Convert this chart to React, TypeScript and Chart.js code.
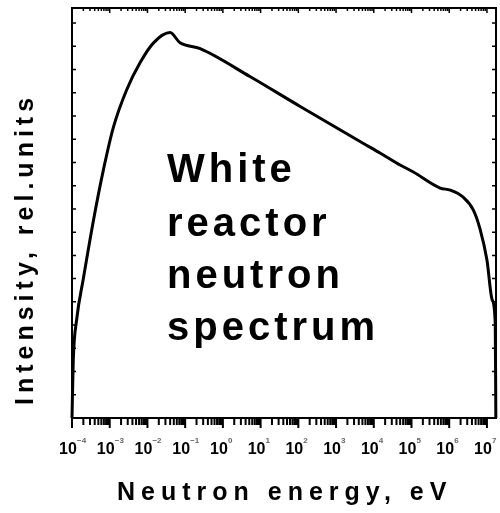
import { useEffect, useRef } from 'react';
import { Chart, registerables } from 'chart.js';

Chart.register(...registerables);

// Reactor neutron spectrum: energy (eV) vs. intensity (rel. units)
const ENERGY_EV = [
  1e-4, 1.08e-4, 1.33e-4, 2.0e-4, 3.67e-4, 6.8e-4, 1.26e-3, 2.8e-3, 6.3e-3,
  1.45e-2, 4.0e-2, 7.3e-2, 0.25, 5.2, 112, 5.2e3, 1.5e4, 5.0e4, 1.12e5,
  5.75e5, 1.07e6, 2.34e6, 4.37e6, 6.6e6, 1.0e7, 1.38e7, 1.66e7, 1.72e7,
];
const INTENSITY = [
  0, 2.47, 4.24, 6.0, 8.47, 10.68, 12.53, 14.12, 15.28,
  16.15, 16.59, 16.15, 15.9, 14.7, 13.41, 11.83, 11.4, 10.89, 10.59,
  9.9, 9.81, 9.51, 8.95, 8.12, 6.8, 5.08, 4.06, 0,
];

// Axis ranges and tick marks
const X_MIN = 1e-4;
const X_MAX = Math.pow(10, 7.24);
const Y_MIN = 0;
const Y_MAX = 17.65;
const DECADES = [-4, -3, -2, -1, 0, 1, 2, 3, 4, 5, 6, 7];
const MINOR_MULTIPLIERS = [2, 3, 4, 5, 6, 7, 8, 9];
const Y_TICK_VALUES = [1, 2, 3, 4, 5, 6, 7, 8, 9, 10, 11, 12, 13, 14, 15, 16, 17];

// Texts
const X_TITLE = 'Neutron energy, eV';
const Y_TITLE = 'Intensity, rel.units';
const NOTE_LINES = ['White', 'reactor', 'neutron', 'spectrum'];

const FONT = '"Liberation Sans", Arial, Helvetica, sans-serif';

const frameAndLabels = {
  id: 'frameAndLabels',
  afterDatasetsDraw(chart: any) {
    const { ctx, chartArea: a, scales } = chart;
    const xs = scales.x;
    const ys = scales.y;
    ctx.save();
    ctx.strokeStyle = '#000';
    ctx.fillStyle = '#000';

    // frame
    ctx.lineWidth = 2;
    ctx.strokeRect(a.left, a.top, a.right - a.left, a.bottom - a.top);

    // log ticks along bottom (outward, heavy) and top (inward)
    ctx.beginPath();
    ctx.lineWidth = 2;
    for (const d of DECADES) {
      const values = [Math.pow(10, d), ...MINOR_MULTIPLIERS.map((m) => m * Math.pow(10, d))];
      values.forEach((v, i) => {
        if (v < X_MIN || v > X_MAX) return;
        const px = xs.getPixelForValue(v);
        const major = i === 0;
        ctx.moveTo(px, a.bottom);
        ctx.lineTo(px, a.bottom + (major ? 10 : 7));
      });
    }
    ctx.stroke();

    ctx.beginPath();
    ctx.lineWidth = 1.5;
    for (const d of DECADES) {
      const values = [Math.pow(10, d), ...MINOR_MULTIPLIERS.map((m) => m * Math.pow(10, d))];
      values.forEach((v, i) => {
        if (v < X_MIN || v > X_MAX) return;
        const px = xs.getPixelForValue(v);
        const major = i === 0;
        ctx.moveTo(px, a.top);
        ctx.lineTo(px, a.top + (major ? 5 : 3));
      });
    }
    // linear ticks on left and right (inward)
    for (const t of Y_TICK_VALUES) {
      const py = ys.getPixelForValue(t);
      ctx.moveTo(a.left, py);
      ctx.lineTo(a.left + 4, py);
      ctx.moveTo(a.right, py);
      ctx.lineTo(a.right - 4, py);
    }
    ctx.stroke();

    // decade labels: "10" with a small exponent
    for (const d of DECADES) {
      const px = xs.getPixelForValue(Math.pow(10, d));
      ctx.font = `bold 16px ${FONT}`;
      ctx.textAlign = 'center';
      ctx.textBaseline = 'alphabetic';
      ctx.fillStyle = '#000';
      ctx.fillText('10', px - 4, 454);
      ctx.font = `bold 8px ${FONT}`;
      ctx.textAlign = 'left';
      ctx.fillStyle = '#666';
      ctx.fillText(d < 0 ? `\u2212${-d}` : `${d}`, px + 5, 443);
    }

    // axis titles
    ctx.fillStyle = '#000';
    ctx.textAlign = 'left';
    ctx.font = `bold 25px ${FONT}`;
    ctx.letterSpacing = '6px';
    ctx.fillText(X_TITLE, 117, 500);

    ctx.save();
    ctx.translate(33, 405);
    ctx.rotate(-Math.PI / 2);
    ctx.letterSpacing = '5px';
    ctx.fillText(Y_TITLE, 0, 0);
    ctx.restore();

    // annotation inside the plot
    ctx.font = `bold 40px ${FONT}`;
    ctx.letterSpacing = '4px';
    const baselines = [182, 236, 288, 340];
    NOTE_LINES.forEach((line, i) => ctx.fillText(line, 167, baselines[i]));

    ctx.restore();
  },
};

export default function App() {
  const canvasRef = useRef<HTMLCanvasElement | null>(null);

  useEffect(() => {
    document.body.style.margin = '0';
    const canvas = canvasRef.current;
    if (!canvas) return;
    const chart = new Chart(canvas, {
      type: 'line',
      data: {
        datasets: [
          {
            data: ENERGY_EV.map((e, i) => ({ x: e, y: INTENSITY[i] })),
            borderColor: '#000',
            borderWidth: 3,
            pointRadius: 0,
            fill: false,
            cubicInterpolationMode: 'monotone',
            clip: 4,
          },
        ],
      },
      options: {
        animation: false,
        responsive: true,
        maintainAspectRatio: false,
        layout: { padding: { left: 72, right: 4, top: 8, bottom: 95 } },
        plugins: { legend: { display: false }, tooltip: { enabled: false } },
        scales: {
          x: { type: 'logarithmic', min: X_MIN, max: X_MAX, display: false },
          y: { type: 'linear', min: Y_MIN, max: Y_MAX, display: false },
        },
      },
      plugins: [frameAndLabels],
    });
    return () => chart.destroy();
  }, []);

  return (
    <div style={{ position: 'relative', width: 500, height: 513, background: '#fff' }}>
      <canvas ref={canvasRef} />
    </div>
  );
}
